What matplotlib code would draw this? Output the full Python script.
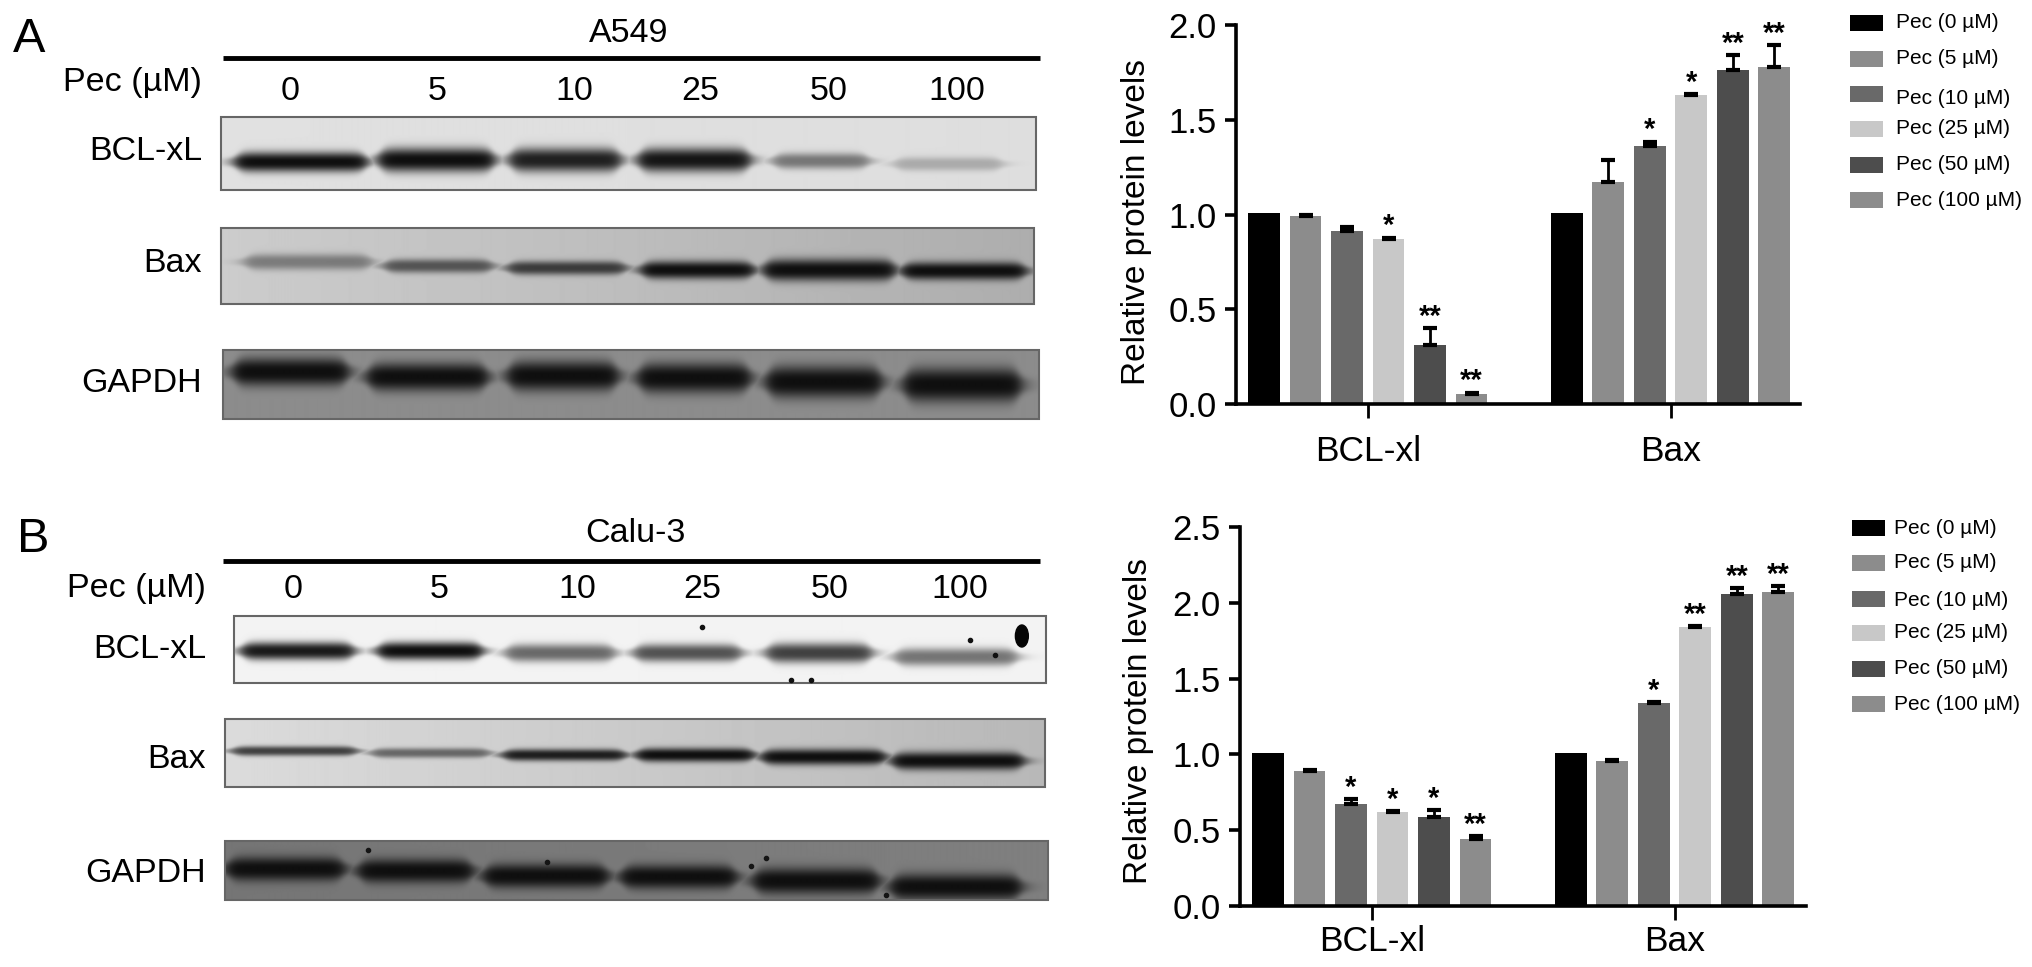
import matplotlib
matplotlib.use("Agg")
import matplotlib.pyplot as plt
from matplotlib.patches import Rectangle, Ellipse
import numpy as np

plt.rcParams['font.family'] = ['Liberation Sans', 'DejaVu Sans']

W, H = 2032, 967

# bar data
groups = ["BCL-xl", "Bax"]
doses = ["Pec (0 µM)", "Pec (5 µM)", "Pec (10 µM)", "Pec (25 µM)", "Pec (50 µM)", "Pec (100 µM)"]
bar_colors = ["#000000", "#8c8c8c", "#696969", "#c8c8c8", "#4d4d4d", "#8c8c8c"]

a_bcl = [1.01, 0.99, 0.915, 0.87, 0.31, 0.055]
a_bcl_err = [0, 0.005, 0.02, 0.008, 0.09, 0.005]
a_bcl_sig = ["", "", "", "*", "**", "**"]
a_bax = [1.01, 1.17, 1.36, 1.63, 1.76, 1.78]
a_bax_err = [0, 0.12, 0.025, 0.005, 0.08, 0.115]
a_bax_sig = ["", "", "*", "*", "**", "**"]

b_bcl = [1.01, 0.89, 0.675, 0.62, 0.59, 0.445]
b_bcl_err = [0, 0.005, 0.03, 0.005, 0.04, 0.015]
b_bcl_sig = ["", "", "*", "*", "*", "**"]
b_bax = [1.01, 0.955, 1.34, 1.84, 2.06, 2.07]
b_bax_err = [0, 0.005, 0.005, 0.005, 0.035, 0.04]
b_bax_sig = ["", "", "*", "**", "**", "**"]

lane_labels = ["0", "5", "10", "25", "50", "100"]

# blot bands: start px, end px, y px, darkness, half thickness
a1_x0 = [238, 382, 514, 643, 779, 901]
a1_x1 = [367, 495, 622, 752, 871, 1005]
a1_y = [162, 160, 160, 160, 161, 164]
a1_d = [1.0, 1.0, 0.92, 0.97, 0.5, 0.25]
a1_t = [10, 12, 12, 12, 8, 7]
a2_x0 = [248, 388, 512, 646, 769, 908]
a2_x1 = [371, 493, 627, 756, 898, 1029]
a2_y = [262, 266, 268, 270, 270, 271]
a2_d = [0.42, 0.62, 0.75, 1.0, 1.0, 1.0]
a2_t = [8, 7, 7, 9, 11, 9]
a3_x0 = [236, 371, 512, 643, 772, 910]
a3_x1 = [348, 488, 619, 752, 884, 1024]
a3_y = [372, 377, 376, 378, 382, 385]
a3_d = [1.0, 1.0, 1.0, 1.0, 1.0, 1.0]
a3_t = [14, 14, 15, 15, 16, 17]

b1_x0 = [244, 381, 510, 639, 772, 901]
b1_x1 = [354, 483, 616, 743, 874, 1020]
b1_y = [651, 651, 653, 653, 653, 657]
b1_d = [0.95, 1.0, 0.6, 0.7, 0.78, 0.55]
b1_t = [9, 9, 9, 9, 10, 9]
b2_x0 = [235, 375, 507, 641, 767, 898]
b2_x1 = [357, 490, 627, 756, 888, 1027]
b2_y = [751, 753, 755, 755, 757, 761]
b2_d = [0.75, 0.55, 0.92, 1.0, 1.0, 1.0]
b2_t = [5, 5, 6, 7, 8, 9]
b3_x0 = [230, 362, 488, 626, 759, 897]
b3_x1 = [344, 473, 609, 738, 881, 1024]
b3_y = [869, 871, 876, 877, 881, 887]
b3_d = [1.0, 1.0, 1.0, 1.0, 1.0, 1.0]
b3_t = [12, 12, 12, 12, 13, 13]

fig = plt.figure(figsize=(W / 100, H / 100), dpi=100)
# blot side was read a bit wide, so its x scale is squeezed slightly
bg = fig.add_axes([0, 0, 1, 1])
bg.axis("off")
lg = fig.add_axes([0, 0, 1, 1])
lg.set_xlim(0, W)
lg.set_ylim(H, 0)
lg.axis("off")


def blot(left, right, top, bottom, tone_l, tone_r, x0, x1, y, d, t):
    xx, yy = np.meshgrid(np.arange(left, right) + 0.5, np.arange(top, bottom) + 0.5)
    base = tone_l + (tone_r - tone_l) * (xx - left) / (right - left)
    dark = np.zeros_like(base)
    for s, e, c, v, th in zip(x0, x1, y, d, t):
        across = 0.5 * (np.tanh((xx - s) / 7) - np.tanh((xx - e) / 7))
        local = th * (0.4 + 0.6 * across)
        down = np.exp(-np.abs((yy - c) / local) ** 2.5)
        dark = np.maximum(dark, v * np.sqrt(across) * down)
    img = base * (1 - dark) + 0.06 * dark
    bg.imshow(img, cmap="gray", vmin=0, vmax=1, extent=(left, right, bottom, top),
              aspect="auto", interpolation="bilinear", zorder=1)
    bg.add_patch(Rectangle((left, top), right - left, bottom - top, fill=False,
                           ec="#666666", lw=1.5, zorder=2))


blot(222, 1041, 117, 190, 0.88, 0.87, a1_x0, a1_x1, a1_y, a1_d, a1_t)
blot(222, 1039, 228, 304, 0.80, 0.68, a2_x0, a2_x1, a2_y, a2_d, a2_t)
blot(224, 1044, 350, 419, 0.55, 0.55, a3_x0, a3_x1, a3_y, a3_d, a3_t)
blot(235, 1051, 616, 683, 0.95, 0.95, b1_x0, b1_x1, b1_y, b1_d, b1_t)
blot(226, 1050, 719, 787, 0.86, 0.72, b2_x0, b2_x1, b2_y, b2_d, b2_t)
blot(226, 1053, 841, 900, 0.46, 0.50, b3_x0, b3_x1, b3_y, b3_d, b3_t)
bg.set_xlim(0, W / 0.995)
bg.set_ylim(H, 0)

# specks on the calu-3 blots
bg.plot([706, 975, 1000, 795, 815], [627, 640, 655, 680, 680], "o", color="#111111", ms=3, zorder=3)
bg.add_patch(Ellipse((1027, 636), 13, 22, color="#050505", zorder=3))
bg.plot([550, 370, 890, 770, 755], [862, 850, 895, 858, 866], "o", color="#151515", ms=3, zorder=3)

fs = 24.5
bg.text(29, 40, "A", fontsize=35, ha="center", va="center", zorder=5)
bg.text(33, 539, "B", fontsize=35, ha="center", va="center", zorder=5)
bg.plot([224, 1045], [58, 58], color="black", lw=3.5, solid_capstyle="butt")
bg.plot([224, 1045], [561, 561], color="black", lw=3.5, solid_capstyle="butt")
bg.text(632, 33, "A549", fontsize=fs, ha="center", va="center")
bg.text(639, 533, "Calu-3", fontsize=fs, ha="center", va="center")
bg.text(203, 82, "Pec (µM)", fontsize=fs, ha="right", va="center")
bg.text(207, 589, "Pec (µM)", fontsize=fs, ha="right", va="center")

for lab, xp in zip(lane_labels, [292, 439, 577, 704, 833, 962]):
    bg.text(xp, 91, lab, fontsize=fs, ha="center", va="center")
for lab, xp in zip(lane_labels, [295, 441, 580, 706, 834, 965]):
    bg.text(xp, 589, lab, fontsize=fs, ha="center", va="center")

for lab, yp in zip(["BCL-xL", "Bax", "GAPDH"], [152, 263, 384]):
    bg.text(203, yp, lab, fontsize=fs, ha="right", va="center")
for lab, yp in zip(["BCL-xL", "Bax", "GAPDH"], [650, 760, 874]):
    bg.text(207, yp, lab, fontsize=fs, ha="right", va="center")


def chart(x_px, top_px, bottom_px, right_px, ymax, ticks, xpad, lab_x, lab_y, s1, e1, g1, s2, e2, g2):
    ax = fig.add_axes([x_px / W, 1 - bottom_px / H, (right_px - x_px) / W, (bottom_px - top_px) / H])
    pitch = 41.5
    ax.set_xlim(-(28 / pitch), (right_px - x_px - 28) / pitch)
    ax.set_ylim(0, ymax)
    for off, vals, errs, sigs in [(0, s1, e1, g1), (7.3, s2, e2, g2)]:
        xs = np.arange(6) + off
        ax.bar(xs, vals, width=0.77, color=bar_colors, zorder=2)
        for xv, v, er, sg in zip(xs, vals, errs, sigs):
            if er > 0:
                ax.errorbar(xv, v, yerr=[[0], [er]], color="black", lw=2, capsize=5,
                            capthick=3, zorder=3)
            if sg:
                ax.annotate(sg, (xv, v + er), xytext=(0, -2), textcoords="offset points",
                            ha="center", va="bottom", fontsize=21, fontweight="bold",
                            annotation_clip=False)
    ax.spines[["top", "right"]].set_visible(False)
    ax.spines[["left", "bottom"]].set_linewidth(2.6)
    ax.set_yticks(ticks)
    ax.set_yticklabels(["%.1f" % t for t in ticks], fontsize=25)
    ax.set_xticks([2.5, 9.8])
    ax.set_xticklabels(groups, fontsize=25.5)
    ax.tick_params(axis="y", length=8, width=2.6, pad=6)
    ax.tick_params(axis="x", length=10, width=2, pad=xpad)
    ax.set_ylabel("Relative protein levels", fontsize=24)
    ax.yaxis.set_label_coords(lab_x, lab_y)
    ax.patch.set_alpha(0)
    return ax


chart(1236, 25, 404, 1800, 2.0, [0, 0.5, 1.0, 1.5, 2.0], 12, -0.149, 0.48,
      a_bcl, a_bcl_err, a_bcl_sig, a_bax, a_bax_err, a_bax_sig)
chart(1240, 527, 906, 1806, 2.5, [0, 0.5, 1.0, 1.5, 2.0, 2.5], 4, -0.152, 0.487,
      b_bcl, b_bcl_err, b_bcl_sig, b_bax, b_bax_err, b_bax_sig)

# hand-placed legends
lg_swatch_a = [23, 59, 94, 129, 165, 200]
lg_text_a = [23, 59, 98, 129, 165, 200]
lg_swatch_b = [528, 563, 599, 633, 669, 704]
lg_text_b = [528, 563, 601, 633, 669, 704]
for lab, col, yp, yt in zip(doses, bar_colors, lg_swatch_a, lg_text_a):
    lg.add_patch(Rectangle((1850, yp - 8), 33, 16, fc=col, ec="none"))
    lg.text(1896, yt, lab, fontsize=15, ha="left", va="center")
for lab, col, yp, yt in zip(doses, bar_colors, lg_swatch_b, lg_text_b):
    lg.add_patch(Rectangle((1852, yp - 8), 33, 16, fc=col, ec="none"))
    lg.text(1894, yt, lab, fontsize=15, ha="left", va="center")

fig.savefig("out.png", dpi=100)
